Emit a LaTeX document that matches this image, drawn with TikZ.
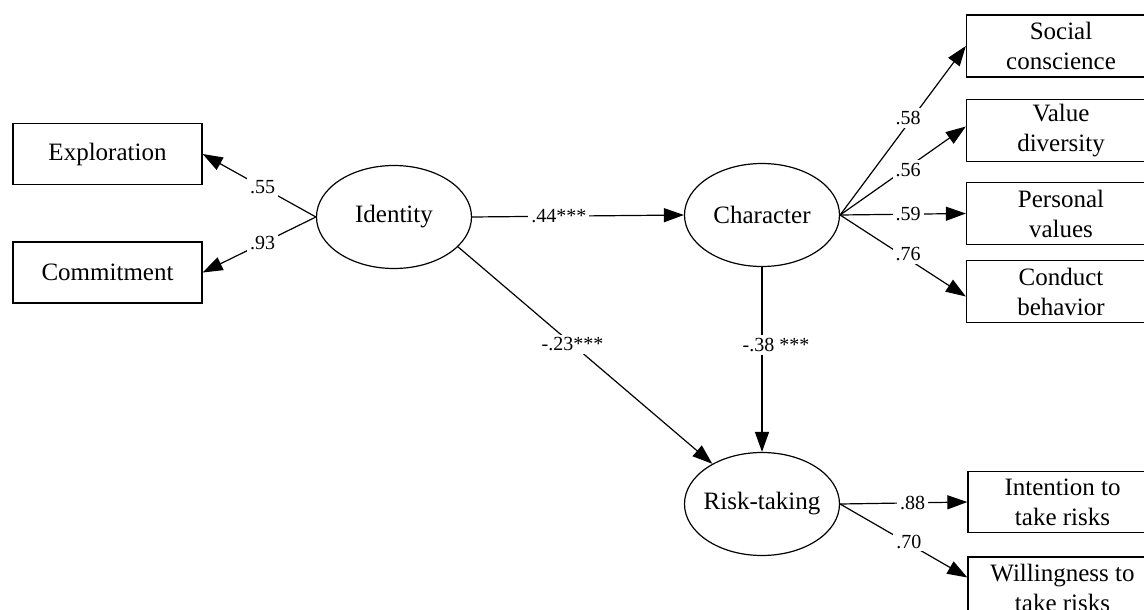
\documentclass[tikz,border=0pt]{standalone}
\usepackage{fontspec}
\setmainfont{Liberation Serif}
\usetikzlibrary{arrows.meta,shapes.geometric}
\tikzset{
  obs/.style={draw, line width=1.3pt, minimum width=189pt, minimum height=61pt, inner sep=0pt, align=center, font=\fontsize{25}{30}\selectfont},
  lat/.style={draw, ellipse, line width=1.2pt, minimum width=155pt, minimum height=103pt, inner sep=0pt, font=\fontsize{25}{30}\selectfont},
  conn/.style={line width=1.2pt, -{Triangle[length=20pt,width=14pt]}},
  lbl/.style={fill=white, inner sep=3pt, font=\fontsize{20}{24}\selectfont},
}
\begin{document}
\begin{tikzpicture}[x=1pt,y=-1pt]
\useasboundingbox (0,0) rectangle (1144,610);
\clip (0,0) rectangle (1144,610);
\fill[white] (0,0) rectangle (1144,610);
% observed left
\node[obs] (expl) at (107.5,154) {Exploration};
\node[obs] (commit) at (107.5,272.5) {Commitment};
% latent
\node[lat] (ident) at (394,217) {\makebox[0pt]{Identity}};
\node[lat] (char) at (762,215) {\makebox[0pt]{Character}};
\node[lat] (risk) at (762,504) {\makebox[0pt]{Risk-taking}};
% observed right
\node[obs, minimum height=62pt] (social) at (1061,46) {Social\\conscience};
\node[obs, minimum height=62pt] (value) at (1061,130.5) {Value\\diversity};
\node[obs, minimum height=62pt] (personal) at (1061,213.5) {Personal\\values};
\node[obs, minimum height=62pt] (conduct) at (1061,291.5) {Conduct\\behavior};
\node[obs, minimum height=61pt] (intent) at (1062.5,502) {Intention to\\take risks};
\node[obs, minimum height=61pt] (will) at (1062.5,587.5) {Willingness to\\take risks};
% connectors
\draw[conn] (ident.west) -- node[lbl, pos=.47] {.55} (expl.east);
\draw[conn] (ident.west) -- node[lbl, pos=.47] {.93} (commit.east);
\draw[conn] (ident.east) -- node[lbl, pos=.41] {.44***} (char.west);
\draw[conn] (ident.-25) -- node[lbl, pos=.45] {-.23***} (risk.141);
\draw[conn] (char.south) -- node[lbl, pos=.42, xshift=14pt] {-.38 ***} (risk.north);
\draw[conn] (char.east) -- node[lbl, pos=.54, yshift=6pt] {.58} (social.west);
\draw[conn] (char.east) -- node[lbl, pos=.54, yshift=-3pt] {.56} ([yshift=4pt]value.west);
\draw[conn] (char.east) -- node[lbl, pos=.54] {.59} (personal.west);
\draw[conn] (char.east) -- node[lbl, pos=.54, yshift=5pt] {.76} ([yshift=-5pt]conduct.west);
\draw[conn] (risk.east) -- node[lbl, pos=.57] {.88} (intent.west);
\draw[conn] (risk.east) -- node[lbl, pos=.54, yshift=2pt] {.70} ([yshift=10pt]will.west);
\end{tikzpicture}
\end{document}
